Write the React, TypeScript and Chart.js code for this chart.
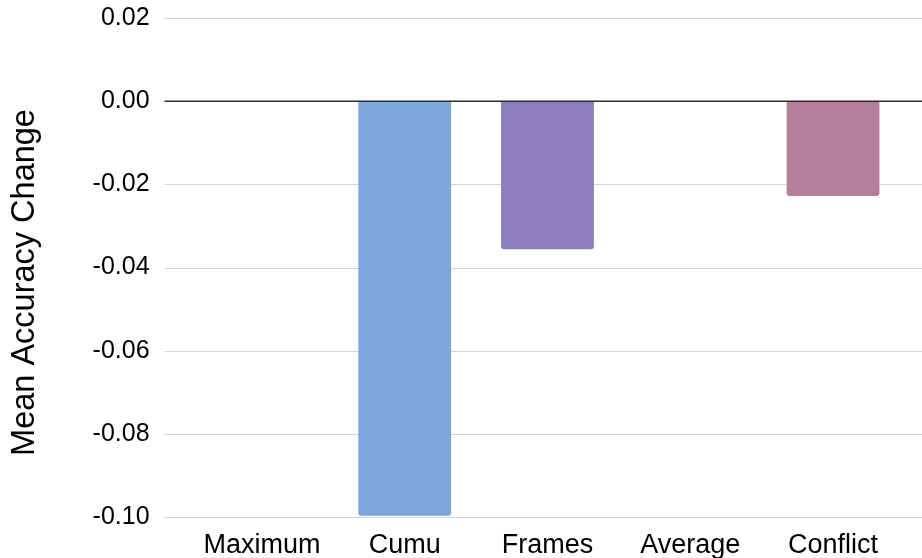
import React, { useEffect, useRef } from "react";
import { Chart, registerables } from "chart.js";

Chart.register(...registerables);

const categories = ["Maximum", "Cumu", "Frames", "Average", "Conflict"];
const meanAccuracyChange = [0, -0.0997, -0.0356, 0, -0.0228];
const barColors = ["#7BA7D9", "#7BA7D9", "#8C7DBE", "#A88BC0", "#B77E9C"];
const yTitle = "Mean Accuracy Change";
const yMin = -0.1;
const yMax = 0.02;
const yStep = 0.02;

const FONT = "'Liberation Sans', Arial, Helvetica, sans-serif";

const gridPlugin = {
  id: "fullGrid",
  beforeDatasetsDraw(chart: any) {
    const { ctx, chartArea } = chart;
    const y = chart.scales.y;
    ctx.save();
    y.ticks.forEach((t: any) => {
      if (Math.abs(t.value) < 1e-9) return;
      const py = Math.round(y.getPixelForValue(t.value)) + 0.5;
      ctx.strokeStyle = "#d3d3d3";
      ctx.lineWidth = 1;
      ctx.beginPath();
      ctx.moveTo(chartArea.left - 26, py);
      ctx.lineTo(chart.width, py);
      ctx.stroke();
    });
    ctx.restore();
  },
  afterDatasetsDraw(chart: any) {
    const { ctx, chartArea } = chart;
    const y = chart.scales.y;
    const py = y.getPixelForValue(0);
    ctx.save();
    ctx.strokeStyle = "#2b2b2b";
    ctx.lineWidth = 1.5;
    ctx.beginPath();
    ctx.moveTo(chartArea.left - 26, py);
    ctx.lineTo(chart.width, py);
    ctx.stroke();
    ctx.restore();
  },
  afterDraw(chart: any) {
    const { ctx } = chart;
    ctx.save();
    ctx.translate(25, 282.5);
    ctx.rotate(-Math.PI / 2);
    ctx.font = `32.5px ${FONT}`;
    ctx.fillStyle = "#000";
    ctx.textAlign = "center";
    ctx.textBaseline = "middle";
    ctx.fillText(yTitle, 0, 0);
    ctx.restore();
  },
};

export default function App() {
  const canvasRef = useRef<HTMLCanvasElement | null>(null);

  useEffect(() => {
    document.body.style.margin = "0";
    const canvas = canvasRef.current;
    if (!canvas) return;
    const chart = new Chart(canvas, {
      type: "bar",
      data: {
        labels: categories,
        datasets: [
          {
            data: meanAccuracyChange,
            backgroundColor: barColors,
            borderWidth: 0,
            borderRadius: 3,
            categoryPercentage: 1,
            barPercentage: 0.65,
          },
        ],
      },
      options: {
        responsive: false,
        animation: false,
        devicePixelRatio: 1,
        layout: { padding: { left: 0, right: 17.6, top: 18, bottom: 0 } },
        plugins: {
          legend: { display: false },
          tooltip: { enabled: false },
          title: { display: false },
        },
        scales: {
          x: {
            grid: { display: false, drawTicks: false },
            border: { display: false },
            ticks: {
              color: "#000",
              font: { family: FONT, size: 27 },
              padding: 12,
              maxRotation: 0,
              autoSkip: false,
            },
            afterFit(scale: any) {
              scale.height = 41;
            },
          },
          y: {
            min: yMin,
            max: yMax,
            grid: { display: false, drawTicks: true, tickLength: 41 },
            border: { display: false },
            ticks: {
              stepSize: yStep,
              color: "#000",
              font: { family: FONT, size: 25 },
              padding: 0,
              callback: (v: any) => {
                const r = Math.round(Number(v) * 100) / 100;
                return (Math.abs(r) < 1e-9 ? 0 : r).toFixed(2);
              },
            },
            afterFit(scale: any) {
              scale.width = 190.6;
            },
          },
        },
      },
      plugins: [gridPlugin],
    });
    return () => chart.destroy();
  }, []);

  return (
    <div style={{ position: "relative", width: 922, height: 558 }}>
      <canvas ref={canvasRef} width={922} height={558} />
    </div>
  );
}
